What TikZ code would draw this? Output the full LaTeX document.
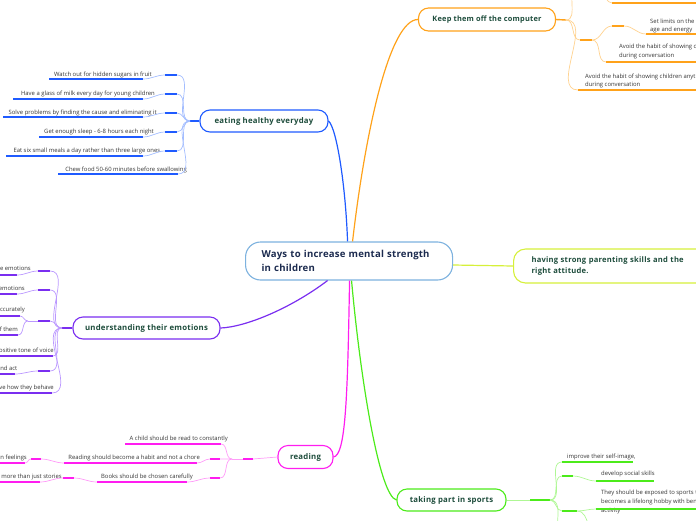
\documentclass[tikz,border=0pt]{standalone}
\usepackage{fontspec}
\setmainfont{Open Sans}
\newfontfamily\topicfont[LetterSpace=3]{Open Sans}
\newfontfamily\centfont[LetterSpace=2]{Open Sans}
\usetikzlibrary{calc}
\definecolor{cblue}{HTML}{1F5BFF}
\definecolor{cbluel}{HTML}{A3BDFF}
\definecolor{corange}{HTML}{FFA21A}
\definecolor{corangel}{HTML}{FFD28F}
\definecolor{cpurple}{HTML}{7A2EF0}
\definecolor{cpurplel}{HTML}{BB98FF}
\definecolor{cmag}{HTML}{FF1DF0}
\definecolor{cmagl}{HTML}{FF9CF8}
\definecolor{cgreen}{HTML}{4CEB1A}
\definecolor{cgreenl}{HTML}{AEF794}
\definecolor{cyel}{HTML}{D6F03A}
\definecolor{ccen}{HTML}{7DB2DF}
\definecolor{topictext}{HTML}{1E4D3C}
\definecolor{centext}{HTML}{1C2B4F}
\definecolor{leaftext}{HTML}{353535}
\tikzset{
  leaf/.style={font=\fontsize{5.9}{8.7}\selectfont, text=leaftext, inner sep=0pt, align=left},
  topicbox/.style={draw, rounded corners=10pt, line width=1.1pt, fill=white, text=topictext,
     font=\topicfont\bfseries\fontsize{7.8}{9}\selectfont, inner sep=0pt},
  uline/.style={line width=1.4pt},
  soft/.style={line width=0.7pt},
  mainc/.style={line width=1.2pt},
  sr/.style={out=0,in=180},
  sl/.style={out=180,in=0},
}
\begin{document}
\begin{tikzpicture}[x=1pt,y=-1pt]
\useasboundingbox (0,0) rectangle (696,520);
\clip (0,0) rectangle (696,520);

% ---------- main nodes ----------
\node[draw=ccen, line width=1.1pt, rounded corners=15pt, fill=white, text=centext,
  font=\centfont\bfseries\fontsize{9.6}{14}\selectfont, align=left, text width=175pt,
  inner xsep=16pt, inner ysep=0pt, minimum height=38pt, anchor=west] (central) at (245,261)
  {Ways to increase mental strength\\in children};
\node[draw=cyel, line width=1.1pt, rounded corners=12pt, fill=white, text=topictext,
  font=\topicfont\bfseries\fontsize{7.6}{11}\selectfont, align=left, text width=180pt,
  inner xsep=18pt, inner ysep=0pt, minimum height=34pt, anchor=west] (having) at (513,266)
  {having strong parenting skills and the\\right attitude.};
\node[topicbox, draw=cblue, minimum width=128pt, minimum height=22pt] (eating) at (264,121) {eating healthy everyday};
\node[topicbox, draw=corange, minimum width=137pt, minimum height=23pt, font=\topicfont\bfseries\fontsize{7.4}{9}\selectfont] (keep) at (487,19.5) {Keep them off the computer};
\node[topicbox, draw=cpurple, minimum width=147pt, minimum height=22pt] (under) at (146.5,328) {understanding their emotions};
\node[topicbox, draw=cmag, minimum width=55pt, minimum height=23pt] (reading) at (305.5,457) {reading};
\node[topicbox, draw=cgreen, minimum width=109pt, minimum height=22pt] (sports) at (451.5,500) {taking part in sports};

% ---------- main connectors ----------
\draw[cblue,mainc] ([xshift=-1.5pt]central.north) .. controls +(-2,-57) and +(8,7) .. (eating.east);
\draw[corange,mainc] ([xshift=3.5pt]central.north) .. controls +(13,-112) and +(-28,0) .. (keep.west);
\draw[cpurple,mainc] ([xshift=-21.5pt]central.south) .. controls +(-37,28) and +(25,-1) .. (under.east);
\draw[cmag,mainc] ([xshift=0.5pt]central.south) .. controls +(-2,120) and +(12,-2) .. (reading.east);
\draw[cgreen,mainc] ([xshift=2.5pt]central.south) .. controls +(9,100) and +(-17,-4) .. (sports.west);
\draw[cyel,mainc] ([yshift=-4pt]central.east) -- (having.west);

% ---------- eating healthy everyday ----------
\coordinate (eB) at (190,121);
\draw[cblue,uline] (eating.west) -- (eB);
\foreach \i/\t/\tx/\ty/\ux/\uy/\sy in {
 1/Watch out for hidden sugars in fruit/152/76/49/79/75,
 2/Have a glass of milk every day for young children/155/95/13/99/94,
 3/Solve problems by finding the cause and eliminating it/157/114/3/117/113,
 4/Get enough sleep - 6-8 hours each night/154/133/39/137/132,
 5/Eat six small meals a day rather than three large ones./162/152/6/156/151}{
 \node[leaf,anchor=base east] (et\i) at (\tx,\ty) {\t};
 \coordinate (eua\i) at (\ux,\uy); \coordinate (eub\i) at (143,\uy);
 \coordinate (esa\i) at (165,\sy); \coordinate (esb\i) at (177,\sy);
 \draw[cblue,uline] (eua\i) -- (eub\i) (esa\i) -- (esb\i);
 \draw[cbluel,soft] (eub\i) to[sr] (esa\i) (esb\i) to[sr] (eB);
}
\node[leaf,anchor=base east] (et6) at (187,171) {Chew food 50-60 minutes before swallowing};
\coordinate (eua6) at (58,174); \coordinate (eub6) at (178,174);
\draw[cblue,uline] (eua6) -- (eub6);
\draw[cbluel,soft] (eub6) to[sr] (eB);

% ---------- understanding their emotions ----------
\coordinate (uB) at (62,328);
\draw[cpurple,uline] (under.west) -- (uB);
\foreach \i/\t/\tx/\ty/\ue/\uy/\sy in {1/e emotions/31/270/17/275/271, 2/emotions/25/290/17/294/290, 5/nd act/17.5/370/15/374/371}{
  \node[leaf,anchor=base east] (ut\i) at (\tx,\ty) {\t};
  \coordinate (uua\i) at (-5,\uy); \coordinate (uub\i) at (\ue,\uy);
  \coordinate (usa\i) at (38,\sy); \coordinate (usb\i) at (50,\sy);
  \draw[cpurple,uline] (uua\i) -- (uub\i) (usa\i) -- (usb\i);
  \draw[cpurplel,soft] (uub\i) to[sr] (usa\i) (usb\i) to[sr] (uB);
}
\foreach \i/\t/\tx/\ty/\ue/\uy in {4/ositive tone of voice/54/352/53/356, 6/ve how they behave/54/389/52/393}{
  \node[leaf,anchor=base east] (ut\i) at (\tx,\ty) {\t};
  \coordinate (uua\i) at (-5,\uy); \coordinate (uub\i) at (\ue,\uy);
  \draw[cpurple,uline] (uua\i) -- (uub\i);
  \draw[cpurplel,soft] (uub\i) to[sr] (uB);
}
\coordinate (uC) at (28,321); \coordinate (usa3) at (38,321); \coordinate (usb3) at (50,321);
\draw[cpurplel,soft] (uC) -- (usa3);
\draw[cpurple,uline] (usa3) -- (usb3);
\draw[cpurplel,soft] (usb3) to[sr] (uB);
\node[leaf,anchor=base east] (ut3a) at (25,311) {ccurately};
\coordinate (uua3a) at (-5,316); \coordinate (uub3a) at (20,316);
\draw[cpurple,uline] (uua3a) -- (uub3a);
\draw[cpurplel,soft] (uub3a) to[sr] (uC);
\node[leaf,anchor=base east] (ut3b) at (18,331) {f them};
\coordinate (uua3b) at (-5,335); \coordinate (uub3b) at (18,335);
\draw[cpurple,uline] (uua3b) -- (uub3b);
\draw[cpurplel,soft] (uub3b) to[sr] (uC);

% ---------- reading ----------
\coordinate (rS1) at (253,459); \coordinate (rS2) at (243,459); \coordinate (rB) at (232,459);
\draw[cmagl,soft] (reading.west) -- (rS1);
\draw[cmag,uline] (rS1) -- (rS2);
\draw[cmagl,soft] (rS2) -- (rB);
\node[leaf,anchor=base east] (rt1) at (228,440) {A child should be read to constantly};
\coordinate (rua1) at (125,444); \coordinate (rub1) at (221,444);
\draw[cmag,uline] (rua1) -- (rub1);
\draw[cmagl,soft] (rub1) to[sr] (rB);
\node[leaf,anchor=base east] (rt2) at (200,459) {Reading should become a habit and not a chore};
\coordinate (rua2) at (64,463); \coordinate (rub2) at (197,463);
\coordinate (rsa2) at (210,459); \coordinate (rsb2) at (220,459);
\draw[cmag,uline] (rua2) -- (rub2) (rsa2) -- (rsb2);
\draw[cmagl,soft] (rub2) to[sr] (rsa2) (rsb2) -- (rB);
\coordinate (rla2) at (31,459); \coordinate (rlb2) at (41,459);
\draw[cmag,uline] (rla2) -- (rlb2);
\draw[cmagl,soft] (rua2) to[sl] (rlb2);
\node[leaf,anchor=base east] (rt2b) at (27,459) {n feelings};
\coordinate (rva2) at (-5,463); \coordinate (rvb2) at (25,463);
\draw[cmag,uline] (rva2) -- (rvb2);
\draw[cmagl,soft] (rla2) to[sl] (rvb2);
\node[leaf,anchor=base east] (rt3) at (193,478) {Books should be chosen carefully};
\coordinate (rua3) at (97,482); \coordinate (rub3) at (187,482);
\coordinate (rsa3) at (210,478); \coordinate (rsb3) at (220,478);
\draw[cmag,uline] (rua3) -- (rub3) (rsa3) -- (rsb3);
\draw[cmagl,soft] (rub3) to[sr] (rsa3) (rsb3) to[sr] (rB);
\coordinate (rla3) at (63,478); \coordinate (rlb3) at (74,478);
\draw[cmag,uline] (rla3) -- (rlb3);
\draw[cmagl,soft] (rua3) to[sl] (rlb3);
\node[leaf,anchor=base east] (rt3b) at (62,478) {more than just stories};
\coordinate (rva3) at (-5,482); \coordinate (rvb3) at (40,482);
\draw[cmag,uline] (rva3) -- (rvb3);
\draw[cmagl,soft] (rla3) to[sl] (rvb3);

% ---------- taking part in sports ----------
\coordinate (sS) at (530,500); \coordinate (sB) at (550,500);
\draw[cgreenl,soft] (sports.east) -- (sS);
\draw[cgreen,uline] (sS) -- (sB);
\node[leaf,anchor=base west] (st1) at (567,458) {improve their self-image,};
\coordinate (sua1) at (562,462); \coordinate (sub1) at (633,462);
\draw[cgreen,uline] (sua1) -- (sub1);
\draw[cgreenl,soft] (sB) to[sr] (sua1);
\node[leaf,anchor=base west] (st2) at (601,475) {develop social skills};
\coordinate (ssa2) at (562,476); \coordinate (ssb2) at (573,476);
\coordinate (sua2) at (596,481); \coordinate (sub2) at (654,481);
\draw[cgreen,uline] (ssa2) -- (ssb2) (sua2) -- (sub2);
\draw[cgreenl,soft] (sB) to[sr] (ssa2) (ssb2) to[sr] (sua2);
\node[leaf,anchor=north west] (st3) at (601,490) {They should be exposed to sports t\\becomes a lifelong hobby with ben\\activity};
\coordinate (ssa3) at (562,511); \coordinate (ssb3) at (577,511);
\coordinate (sua3) at (596,509); \coordinate (sub3) at (700,509);
\draw[cgreen,uline] (ssa3) -- (ssb3) (sua3) -- (sub3);
\draw[cgreenl,soft] (sB) to[sr] (ssa3) (ssb3) to[sr] (sua3);
\coordinate (soff1) at (565,545); \coordinate (soff2) at (600,540);
\draw[cgreenl,soft] (sB) to[sr] (soff1) (ssb3) to[sr] (soff2);

% ---------- keep them off the computer ----------
\coordinate (kB) at (566,20);
\draw[corange,uline] (keep.east) -- (kB);
\coordinate (koff1) at (578,-12);
\draw[corangel,soft] (kB) to[sr] (koff1);
\coordinate (koff2) at (600,-6); \coordinate (kua1) at (612,3); \coordinate (kub1) at (700,3);
\draw[corange,uline] (kua1) -- (kub1);
\draw[corangel,soft] (koff2) to[sr] (kua1);
\coordinate (ksa2) at (580,40); \coordinate (ksb2) at (592,40);
\draw[corange,uline] (ksa2) -- (ksb2);
\draw[corangel,soft] (kB) to[sr] (ksa2);
\coordinate (ksa3) at (612,26); \coordinate (ksb3) at (624,26);
\coordinate (kua3) at (646,34); \coordinate (kub3) at (700,34);
\draw[corange,uline] (ksa3) -- (ksb3) (kua3) -- (kub3);
\draw[corangel,soft] (ksb2) to[sr] (ksa3) (ksb3) to[sr] (kua3);
\node[leaf,anchor=north west] (kt3) at (650,18.5) {Set limits on the\\age and energy};
\coordinate (kua4) at (606,62); \coordinate (kub4) at (700,62);
\draw[corange,uline] (kua4) -- (kub4);
\draw[corangel,soft] (ksb2) to[sr] (kua4);
\node[leaf,anchor=north west] (kt4) at (619,44) {Avoid the habit of showing c\\during conversation};
\coordinate (kua5) at (578,90); \coordinate (kub5) at (700,90);
\draw[corange,uline] (kua5) -- (kub5);
\draw[corangel,soft] (kB) to[sr] (kua5);
\node[leaf,anchor=north west] (kt5) at (585,73.5) {Avoid the habit of showing children anyt\\during conversation};
\end{tikzpicture}
\end{document}
